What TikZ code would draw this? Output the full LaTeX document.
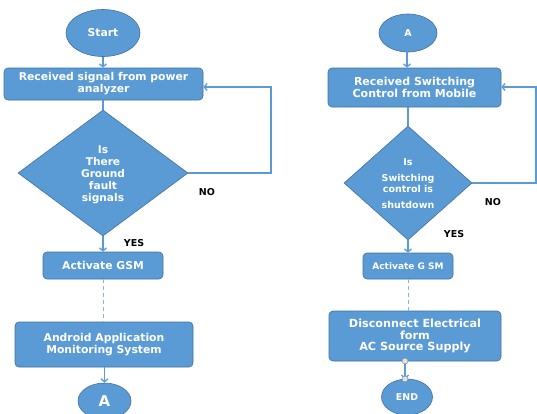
\documentclass[tikz,border=0pt]{standalone}
\usepackage{fontspec}
\setmainfont{DejaVu Sans}
\usetikzlibrary{shapes.geometric,arrows.meta}
\definecolor{fillblue}{HTML}{5B9BD5}
\definecolor{edgeblue}{HTML}{41719C}
\definecolor{lineblue}{HTML}{5B9BD5}
\definecolor{dashblue}{HTML}{86B6E2}
\definecolor{handlefill}{HTML}{DCE3EC}
\begin{document}
\begin{tikzpicture}[x=1pt,y=-1pt,
  box/.style={draw=edgeblue, line width=0.6pt, fill=fillblue, rounded corners=4pt, text=white,
    font=\bfseries\fontsize{10.8}{12}\selectfont, align=center, inner sep=0pt},
  oval/.style={ellipse, draw=edgeblue, line width=0.6pt, fill=fillblue, text=white, inner sep=0pt},
  dia/.style={diamond, draw=edgeblue, line width=0.6pt, fill=fillblue, inner sep=0pt},
  diatext/.style={text=white, align=center, inner sep=0pt},
  conn/.style={draw=lineblue, line width=1.3pt},
  arr/.style={conn, -{Straight Barb[length=3pt,width=7pt]}},
  dashconn/.style={draw=dashblue, line width=1pt, dash pattern=on 4pt off 3pt},
  lbl/.style={text=black, font=\bfseries\fontsize{9.5}{11}\selectfont, inner sep=0pt},
  handle/.style={circle, draw=gray, fill=handlefill, line width=0.4pt, inner sep=0pt, minimum size=6pt}
]
\clip (0,0) rectangle (537,413);
\fill[white] (0,0) rectangle (537,413);

% ---------- left chart ----------
\node[oval, minimum width=74pt, minimum height=47pt, font=\bfseries\fontsize{10.8}{12}\selectfont] (start) at (103,33) {Start};
\node[box, minimum width=199pt, minimum height=32pt] (recv1) at (103.5,84) {Received signal from power\\analyzer};
\node[dia, minimum width=170pt, minimum height=126pt] (d1) at (103,173) {};
\node[diatext, font=\bfseries\fontsize{10.6}{12}\selectfont] (d1t) at (103,175) {Is\\There\\Ground\\fault\\signals};
\node[box, minimum width=120pt, minimum height=27pt] (gsm1) at (103,265.5) {Activate GSM};
\node[box, minimum width=178pt, minimum height=45pt] (andr) at (104,344.5) {Android Application\\Monitoring System};
\node[oval, minimum width=53pt, minimum height=36pt, font=\bfseries\fontsize{15}{16}\selectfont] (a1) at (104.5,401) {A};

\node[lbl] (no1) at (207,192) {NO};
\node[lbl] (yes1) at (134,243) {YES};

\draw[arr] (start.south) -- (recv1.north -| start.south);
\draw[conn] (recv1.south -| d1.north) -- (d1.north);
\draw[arr] (d1.south) -- (gsm1.north -| d1.south);
\draw[dashconn] (gsm1.south) -- (andr.north -| gsm1.south);
\draw[arr] (andr.south -| a1.north) -- (a1.north);
\coordinate (n1) at (271,87);
\draw[arr] (d1.east) -| (n1) -- (recv1.east |- n1);

% ---------- right chart ----------
\node[oval, minimum width=58pt, minimum height=38pt, font=\bfseries\fontsize{9.5}{11}\selectfont] (a2) at (408,33) {A};
\node[box, minimum width=173pt, minimum height=39pt, font=\bfseries\fontsize{11}{12}\selectfont] (recv2) at (414.5,87.5) {Received Switching\\Control from Mobile};
\node[dia, minimum width=128pt, minimum height=114pt] (d2) at (408,183) {};
\node[diatext, font=\bfseries\fontsize{9.5}{11}\selectfont] (d2t) at (408,184) {Is\\[5pt]Switching\\control is\\[5pt]shutdown};
\node[box, minimum width=90pt, minimum height=26pt, font=\bfseries\fontsize{9}{11}\selectfont] (gsm2) at (408,266) {Activate G SM};
\node[box, minimum width=172pt, minimum height=50pt, font=\bfseries\fontsize{11.2}{11.6}\selectfont] (disc) at (415,336) {Disconnect Electrical\\form\\AC Source Supply};
\node[oval, minimum width=51pt, minimum height=36pt, font=\bfseries\fontsize{9.4}{11}\selectfont] (endn) at (407,397) {END};

\node[lbl] (no2) at (493,202) {NO};
\node[lbl] (yes2) at (454,234) {YES};

\draw[arr] (a2.south -| 407,0) -- (recv2.north -| 407,0);
\draw[conn] (recv2.south -| d2.north) -- (d2.north);
\draw[arr] (d2.south) -- (gsm2.north -| d2.south);
\draw[dashconn] (gsm2.south) -- (disc.north -| gsm2.south);
\coordinate (n2) at (536,87);
\draw[arr] (d2.east) -| (n2) -- (recv2.east |- n2);
\coordinate (h1) at (405,361);
\coordinate (h2) at (405,379);
\draw[arr] (h1) -- (h2);
\node[handle] (hh1) at (h1) {};
\node[handle] (hh2) at (h2) {};
\end{tikzpicture}
\end{document}
